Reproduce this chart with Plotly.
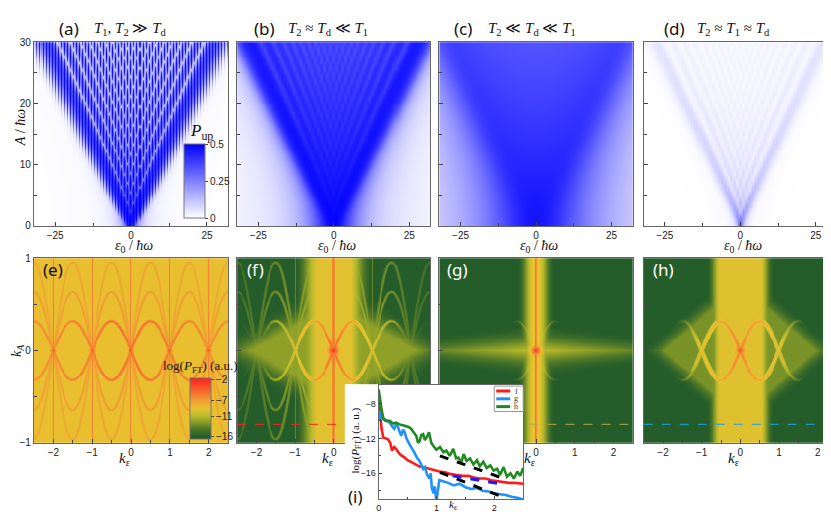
import numpy as np
import plotly.graph_objects as go

# ---------------- text
top_tags = ["(a)", "(b)", "(c)", "(d)"]
top_regimes = [
    "<i>T</i><sub>1</sub>, <i>T</i><sub>2</sub> ≫ <i>T</i><sub>d</sub>",
    "<i>T</i><sub>2</sub> ≈ <i>T</i><sub>d</sub> ≪ <i>T</i><sub>1</sub>",
    "<i>T</i><sub>2</sub> ≪ <i>T</i><sub>d</sub> ≪ <i>T</i><sub>1</sub>",
    "<i>T</i><sub>2</sub> ≈ <i>T</i><sub>1</sub> ≈ <i>T</i><sub>d</sub>",
]
bottom_tags = ["(e)", "(f)", "(g)", "(h)"]

# ---------------- top maps: rate-equation model, units of hbar*omega
eps0 = np.linspace(-32, 32, 193)
amp = np.linspace(0, 30, 189)
n_max = 45
delta = 1.0
gamma1 = [0.01, 0.006, 0.008, 0.5]
gamma2 = [0.08, 0.7, 5.0, 0.6]

# ---------------- bottom maps (Fourier space)
k_eps = np.linspace(-2.5, 2.5, 201)
k_amp = np.linspace(-1, 1, 191)
cut_k_amp = -0.8
cut_colors = ["#ff2020", "#b4a446", "#1fa0e8"]

# ---------------- line cuts, panel (i)
series_names = ["f", "g", "h"]
series_colors = ["#ff1a1a", "#1e90ff", "#1f8a1f"]
k_f = [0, 0.02, 0.05, 0.08, 0.12, 0.16, 0.2, 0.23, 0.27, 0.3, 0.34, 0.38, 0.45, 0.5, 0.56, 0.63,
       0.7, 0.78, 0.88, 0.95, 1.05, 1.15, 1.25, 1.35, 1.45, 1.55, 1.65, 1.75, 1.85, 1.95, 2.05,
       2.15, 2.25, 2.35, 2.5]
log_f = [-7.2, -9.0, -10.9, -11.9, -12.0, -12.1, -12.5, -13.4, -13.0, -13.2, -13.6, -13.9, -14.2,
         -14.5, -14.7, -15.0, -15.2, -15.3, -15.5, -15.6, -15.8, -15.9, -16.1, -16.2, -16.3, -16.3,
         -16.5, -16.6, -16.6, -16.8, -16.9, -17.0, -17.1, -17.1, -17.2]
k_g = [0, 0.02, 0.04, 0.06, 0.1, 0.15, 0.19, 0.23, 0.27, 0.3, 0.33, 0.36, 0.39, 0.42, 0.45, 0.48,
       0.5, 0.53, 0.56, 0.6, 0.63, 0.67, 0.7, 0.74, 0.77, 0.8, 0.84, 0.88, 0.9, 0.92, 0.95, 0.97,
       1.0, 1.02, 1.05, 1.1, 1.2, 1.3, 1.4, 1.5, 1.6, 1.7, 1.8, 1.9, 2.0, 2.1, 2.2, 2.3, 2.4, 2.5]
log_g = [-10.0, -8.9, -9.6, -9.8, -9.8, -10.0, -10.2, -10.6, -10.9, -10.4, -10.6, -11.2, -11.7,
         -11.0, -11.3, -12.0, -12.3, -12.6, -13.0, -13.4, -13.8, -14.3, -14.5, -15.0, -15.5, -15.3,
         -16.2, -16.6, -16.0, -17.7, -18.3, -17.5, -19.3, -18.2, -16.8, -16.9, -17.1, -17.4, -17.2,
         -17.6, -17.8, -17.7, -18.0, -18.1, -18.3, -18.4, -18.5, -18.7, -18.8, -19.0]
k_h = [0, 0.02, 0.05, 0.08, 0.12, 0.19, 0.25, 0.3, 0.36, 0.42, 0.48, 0.52, 0.56, 0.6, 0.65, 0.68,
       0.71, 0.74, 0.77, 0.8, 0.83, 0.87, 0.91, 0.95, 1.0, 1.06, 1.12, 1.17, 1.23, 1.29, 1.34,
       1.38, 1.43, 1.47, 1.52, 1.58, 1.64, 1.7, 1.75, 1.81, 1.87, 1.93, 1.99, 2.05, 2.1, 2.16,
       2.22, 2.28, 2.34, 2.4, 2.45, 2.5]
log_h = [-6.4, -7.5, -8.7, -9.7, -10.0, -10.0, -10.3, -10.2, -10.4, -10.5, -10.6, -10.7, -10.9,
         -11.3, -11.7, -12.5, -12.3, -11.6, -11.5, -12.2, -11.9, -11.3, -12.5, -12.9, -13.3, -13.0,
         -13.6, -13.4, -14.0, -13.2, -14.3, -14.2, -14.8, -13.8, -14.6, -14.3, -15.0, -14.5, -15.2,
         -14.7, -15.4, -15.1, -15.7, -15.5, -16.2, -15.3, -16.4, -16.0, -16.6, -15.8, -16.3, -15.4]
fit_k_upper = [1.06, 2.16]
fit_upper = [-14.0, -16.6]
fit_k_lower = [1.06, 2.1]
fit_lower = [-15.9, -18.6]
fit_k_blue = [1.28, 2.18]
fit_blue = [-16.3, -17.3]

W_PX, H_PX = 831, 515
cols_px = [(23, 218), (227, 421), (430, 624), (635, 829)]
top_px = (29, 217)
bot_px = (250, 439)


def xd(a, b):
    return [a / W_PX, b / W_PX]


def yd(top, bottom):
    return [1 - bottom / H_PX, 1 - top / H_PX]


# ---------------- Bessel functions via integral representation
tau = np.linspace(0, np.pi, 1501)


def bessel_sq(n, x):
    integ = np.cos(n * tau[None, :] - x[:, None] * np.sin(tau)[None, :])
    return (np.trapezoid(integ, tau, axis=1) / np.pi) ** 2


J2 = [bessel_sq(n, amp) for n in range(n_max + 1)]


def p_up(g1, g2):
    W = np.zeros((len(amp), len(eps0)))
    for n in range(-n_max, n_max + 1):
        lor = g2 / ((eps0 - n) ** 2 + g2 ** 2)
        W += J2[abs(n)][:, None] * lor[None, :]
    W *= 0.5 * delta ** 2
    return 0.5 * W / (W + g1)


KE, KA = np.meshgrid(k_eps, k_amp)
S = np.abs(np.sin(np.pi * KE)) / np.pi
COSP = np.abs(np.cos(np.pi * KE))
PXE, PXA = 38.8, 94.5   # pixels per unit on the two axes


def ft_map(floor, vband=None, hband=None, glow=None, arcs=(), arc_w=1.0, lines=(), peaks=()):
    I = np.full(KE.shape, 10.0 ** floor)
    aKE, aKA = np.abs(KE), np.abs(KA)
    if vband:
        lv, half, sl = vband
        I += 10 ** (lv - sl * np.maximum(0, aKE - half))
    if hband:
        lv, sa, se = hband
        I += 10 ** (lv - sa * aKA - se * aKE)
    if glow:
        lv, ge, ga, sl = glow
        I += 10 ** (lv - sl * np.maximum(0, aKE / ge + aKA / ga - 1))
    for m, (l0, sl, cut) in enumerate(arcs, start=1):
        lvl = l0 - sl * aKE - 8 * np.maximum(0, aKE - cut)
        slope = m * COSP * PXA / PXE
        d = (aKA - m * S) * PXA / np.sqrt(1 + slope ** 2) / arc_w
        I += 10 ** (lvl - d ** 2)
    for j, lv, w in lines:
        I += 10 ** (lv - ((KE - j) * PXE / w) ** 2)
    for j, lv, sl in peaks:
        r = np.sqrt(((KE - j) * PXE) ** 2 + (KA * PXA) ** 2)
        I += 10 ** (lv - sl * r)
    return np.clip(np.log10(I), -16.5, -1.5)


top_maps = [p_up(g1, g2) for g1, g2 in zip(gamma1, gamma2)]
bottom_maps = [
    ft_map(-8.8,
           arcs=[(-5.2, 0.5, 9), (-6.8, 0.15, 9), (-7.3, 0.1, 9)], arc_w=1.1,
           lines=[(j, -6.0, 0.6) for j in (-2, -1, 0, 1, 2)],
           peaks=[(j, -3.8, 1.3) for j in (-2, -1, 0, 1, 2)]),
    ft_map(-16.0, vband=(-9.3, 0.45, 14), glow=(-12.2, 2.1, 0.5, 8),
           arcs=[(-5.0, 4.6, 9), (-10.8, 1.5, 9), (-11.5, 1.2, 9)], arc_w=1.1,
           lines=[(0, -5.3, 1.0), (-1, -13.5, 0.6), (1, -13.5, 0.6)],
           peaks=[(0, -2.5, 0.9), (-1, -10, 1.5), (1, -10, 1.5)]),
    ft_map(-16.0, vband=(-9.0, 0.1, 22), hband=(-10.8, 22, 1.0),
           arcs=[(-8.2, 14, 9)], arc_w=1.1,
           lines=[(0, -5.5, 1.0)],
           peaks=[(0, -2.5, 1.0)]),
    ft_map(-16.0, vband=(-9.4, 0.55, 25), glow=(-12.8, 1.95, 0.7, 14),
           arcs=[(-6.0, 3.3, 1.1)], arc_w=1.4,
           peaks=[(0, -3.8, 0.9), (-1, -9.5, 1.5), (1, -9.5, 1.5)]),
]

blue_scale = [[0, "#ffffff"], [1, "#0000ff"]]
ft_scale = [[0.0, "rgb(25,85,42)"], [0.167, "rgb(80,120,40)"], [0.3, "rgb(150,165,40)"],
            [0.367, "rgb(185,185,45)"], [0.5, "rgb(232,194,48)"], [0.633, "rgb(240,160,50)"],
            [0.767, "rgb(245,110,45)"], [1.0, "rgb(255,30,30)"]]

tick_font = dict(family="Liberation Sans", size=10, color="#222")
fig = go.Figure()
layout = dict(width=W_PX, height=H_PX, margin=dict(l=0, r=0, t=0, b=0),
              paper_bgcolor="white", plot_bgcolor="white", showlegend=False)

frame = dict(showline=True, mirror=True, linecolor="#666", linewidth=1, ticks="inside",
             ticklen=4, tickcolor="#444", showgrid=False, zeroline=False, tickfont=tick_font)

for i in range(4):
    # top row
    ax = i + 1
    sx = "" if ax == 1 else str(ax)
    cb = None
    if i == 0:
        cb = dict(x=174 / W_PX, xanchor="left", y=1 - 209 / H_PX, yanchor="bottom",
                  len=76 / H_PX, lenmode="fraction", thickness=21, thicknessmode="pixels",
                  xpad=0, ypad=0, outlinecolor="#777", outlinewidth=1, ticks="outside",
                  ticklen=3, tickvals=[0, 0.25, 0.5], ticktext=["0", "0.25", "0.5"],
                  tickfont=tick_font)
    fig.add_trace(go.Heatmap(x=eps0, y=amp, z=top_maps[i], colorscale=blue_scale, zmin=0,
                             zmax=0.5, showscale=(i == 0), colorbar=cb, hoverinfo="skip",
                             xaxis="x" + sx, yaxis="y" + sx))
    layout["xaxis" + sx] = dict(frame, domain=xd(*cols_px[i]), anchor="y" + sx, range=[-32, 32],
                                tickvals=[-25, 0, 25], minor=dict(tickvals=[-12.5, 12.5],
                                ticks="inside", ticklen=3, tickcolor="#444"))
    layout["yaxis" + sx] = dict(frame, domain=yd(*top_px), anchor="x" + sx, range=[0, 30],
                                tickvals=[0, 10, 20, 30], showticklabels=(i == 0),
                                minor=dict(tickvals=[5, 15, 25], ticks="inside", ticklen=3,
                                           tickcolor="#444"))
    # bottom row
    ax = i + 5
    sx = str(ax)
    cb = None
    if i == 0:
        cb = dict(x=180 / W_PX, xanchor="left", y=1 - 435 / H_PX, yanchor="bottom",
                  len=62 / H_PX, lenmode="fraction", thickness=21, thicknessmode="pixels",
                  xpad=0, ypad=0, outlinecolor="#777", outlinewidth=1, ticks="outside",
                  ticklen=3, tickvals=[-2, -7, -11, -16], tickfont=tick_font)
    fig.add_trace(go.Heatmap(x=k_eps, y=k_amp, z=bottom_maps[i], colorscale=ft_scale,
                             zmin=-16.5, zmax=-1.5, showscale=(i == 0), colorbar=cb,
                             hoverinfo="skip", xaxis="x" + sx, yaxis="y" + sx))
    if i > 0:
        fig.add_trace(go.Scatter(x=[k_eps[0], k_eps[-1]], y=[cut_k_amp, cut_k_amp], mode="lines",
                                 line=dict(color=cut_colors[i - 1], width=1, dash="dash"),
                                 hoverinfo="skip", xaxis="x" + sx, yaxis="y" + sx))
    layout["xaxis" + sx] = dict(frame, domain=xd(*cols_px[i]), anchor="y" + sx,
                                range=[-2.5, 2.5], tickvals=[-2, -1, 0, 1, 2],
                                minor=dict(tickvals=[-1.5, -0.5, 0.5, 1.5], ticks="inside",
                                           ticklen=3, tickcolor="#444"))
    layout["yaxis" + sx] = dict(frame, domain=yd(*bot_px), anchor="x" + sx, range=[-1, 1],
                                tickvals=[-1, 0, 1], showticklabels=(i == 0),
                                minor=dict(tickvals=[-0.5, 0.5], ticks="inside", ticklen=3,
                                           tickcolor="#444"))

# white cover behind the inset (its own subplot so it sits above (f) and (g))
fig.add_trace(go.Scatter(x=[], y=[], xaxis="x9", yaxis="y9"))
layout["xaxis9"] = dict(domain=xd(335, 514), anchor="y9", visible=False, range=[0, 1])
layout["yaxis9"] = dict(domain=yd(379, 515), anchor="x9", visible=False, range=[0, 1])

# inset (i)
for kk, vv, col in zip([k_f, k_g, k_h], [log_f, log_g, log_h], series_colors):
    fig.add_trace(go.Scatter(x=kk, y=vv, mode="lines", line=dict(color=col, width=2.6),
                             xaxis="x10", yaxis="y10"))
for kk, vv, col in [(fit_k_upper, fit_upper, "black"), (fit_k_lower, fit_lower, "black"),
                    (fit_k_blue, fit_blue, "#1a1aff")]:
    fig.add_trace(go.Scatter(x=kk, y=vv, mode="lines", line=dict(color=col, width=3, dash="dash"),
                             xaxis="x10", yaxis="y10"))
inset_font = dict(family="Liberation Sans", size=9, color="#222")
layout["xaxis10"] = dict(frame, domain=xd(369, 514), anchor="y10", range=[0, 2.5],
                         tickvals=[0, 1, 2], ticklen=3, tickfont=inset_font,
                         minor=dict(tickvals=[0.5, 1.5], ticks="inside", ticklen=2))
layout["yaxis10"] = dict(frame, domain=yd(380, 497), anchor="x10", range=[-19.0, -5.9],
                         tickvals=[-8, -12, -16], ticklen=3, tickfont=inset_font,
                         minor=dict(tickvals=[-10, -14, -18], ticks="inside", ticklen=2))

# small legend box of the inset
shapes = [dict(type="rect", xref="paper", yref="paper", x0=485 / W_PX, x1=514 / W_PX,
               y0=1 - 407 / H_PX, y1=1 - 381 / H_PX, fillcolor="white",
               line=dict(color="#999", width=1), layer="above")]
ann = []
serif = "Liberation Serif"
for j, (name, col) in enumerate(zip(series_names, series_colors)):
    yy = 386 + 8 * j
    shapes.append(dict(type="line", xref="paper", yref="paper", x0=487 / W_PX, x1=501 / W_PX,
                       y0=1 - yy / H_PX, y1=1 - yy / H_PX, line=dict(color=col, width=3),
                       layer="above"))
    ann.append(dict(x=507 / W_PX, y=1 - yy / H_PX, xref="paper", yref="paper", text=name,
                    showarrow=False, xanchor="center", yanchor="middle",
                    font=dict(family=serif, size=8, color="#333")))
layout["shapes"] = shapes


# ---------------- annotations
def text(x, y, s, size, family=serif, color="#111", angle=0, xanchor="center"):
    ann.append(dict(x=x / W_PX, y=1 - y / H_PX, xref="paper", yref="paper", text=s,
                    showarrow=False, xanchor=xanchor, yanchor="middle", textangle=angle,
                    font=dict(family=family, size=size, color=color)))


tag_x = [46, 242, 443, 653]
regime_x = [120, 318, 523, 725]
for i in range(4):
    text(tag_x[i], 15, top_tags[i], 17, family="Noto Sans", xanchor="left")
    text(regime_x[i], 15, top_regimes[i], 15)
    x0 = cols_px[i][0] + (cols_px[i][1] - cols_px[i][0]) / 2
    text(x0 + 3, 238, "<i>ε</i><sub>0</sub> / <i>ħω</i>", 14)
    text(x0 - 6, 456, "<i>k</i><sub>ε</sub>", 15)
bottom_tag_x = [30, 235, 436, 642]
for i in range(4):
    text(bottom_tag_x[i], 262, bottom_tags[i], 17, family="Noto Sans",
         color="#111" if i == 0 else "white", xanchor="left")
text(9, 116, "<i>A</i> / <i>ħω</i>", 14, angle=-90)
text(7, 344, "<i>k</i><sub><i>A</i></sub>", 14, angle=-90)
text(191, 121, "<i>P</i><sub>up</sub>", 17)
text(190, 361, "log(<i>P</i><sub>FT</sub>) (a.u.)", 13)
text(346, 437, "log(<i>P</i><sub>FT</sub>) (a. u.)", 11, angle=-90)
text(444, 503, "<i>k</i><sub>ε</sub>", 11)
text(336, 494, "(i)", 17, family="Noto Sans", xanchor="left")
layout["annotations"] = ann

fig.update_layout(**layout)
fig.write_html("out.html")
